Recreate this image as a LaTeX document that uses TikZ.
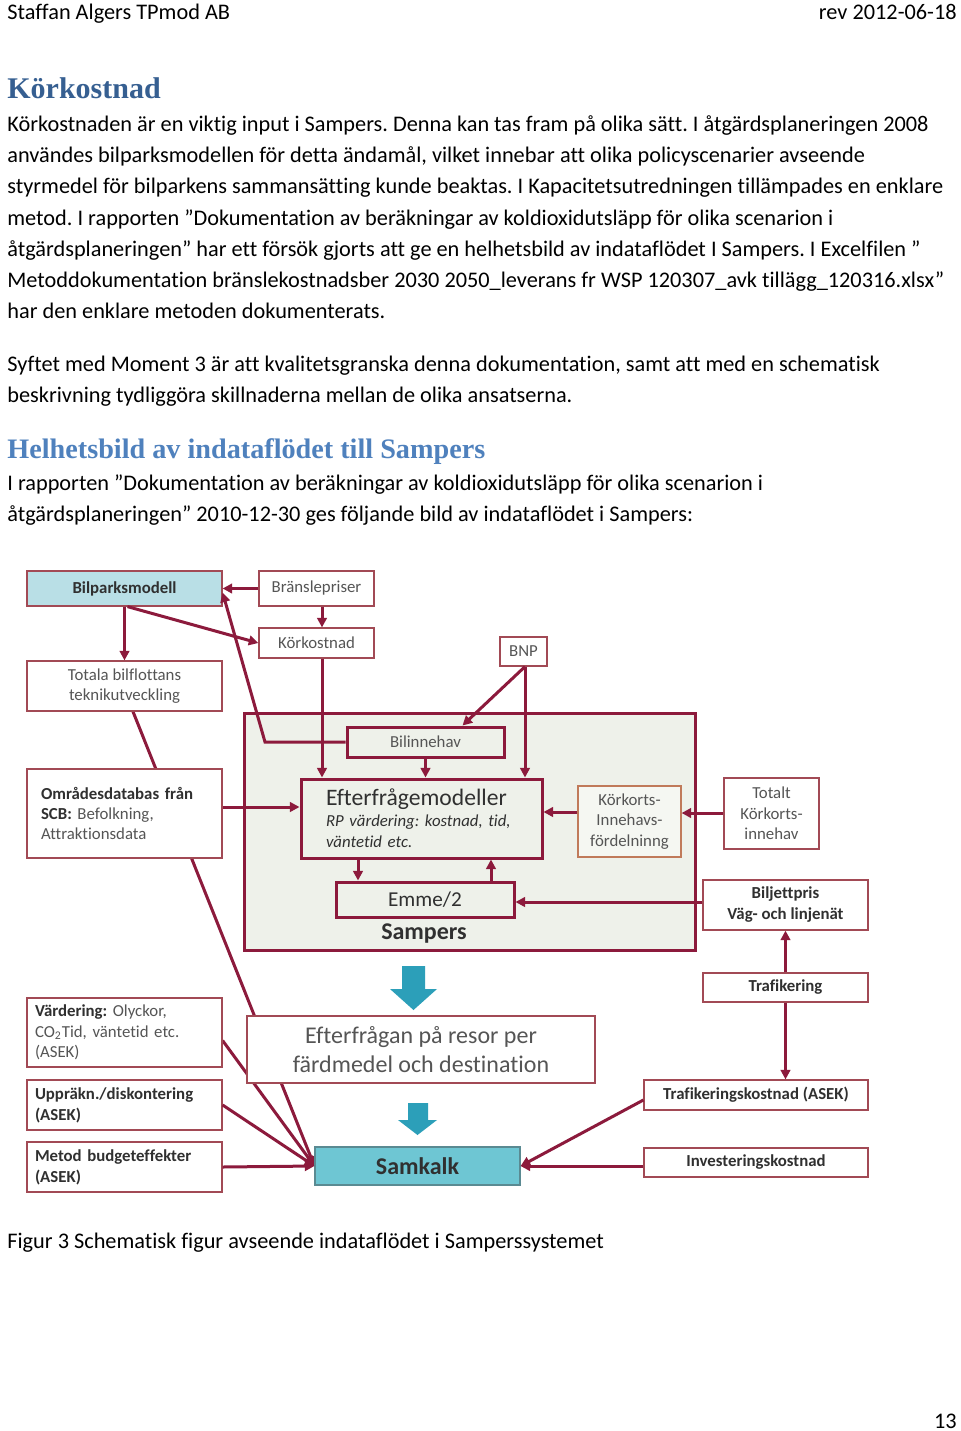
\documentclass[tikz,border=0pt]{standalone}
\usepackage{fontspec}
\setmainfont{Carlito}[Ligatures={NoCommon}]
\newfontfamily\headfont{Liberation Serif}
\usetikzlibrary{arrows.meta,calc}
\definecolor{maroon}{HTML}{8C1A3C}
\definecolor{thinb}{HTML}{A24A55}
\definecolor{sampbg}{HTML}{EEF1EA}
\definecolor{bilpf}{HTML}{B9DFE6}
\definecolor{samkf}{HTML}{6EC6D3}
\definecolor{samkb}{HTML}{5A8A92}
\definecolor{tealarr}{HTML}{2C9FB9}
\definecolor{txtg}{HTML}{555555}
\definecolor{txtd}{HTML}{303030}
\definecolor{h1c}{HTML}{365F91}
\definecolor{h2c}{HTML}{4F81BD}
\definecolor{korkb}{HTML}{C07A5A}
\pgfdeclarelayer{back}
\pgfdeclarelayer{bg}
\pgfsetlayers{back,bg,main}
\newcommand\rbox[7]{\node[#6, minimum width={(#4-#2)*0.5pt}, minimum height={(#5-#3)*0.5pt}] (#1) at ({(#2+#4)/2},{(#3+#5)/2}) {#7};}
\tikzset{
  thinbox/.style={draw=thinb, line width=0.6pt, fill=white, inner sep=0pt, font=\fontsize{8.4}{10.2}\selectfont, text=txtg, align=center},
  boldbox/.style={thinbox, font=\fontsize{8.4}{10.5}\selectfont\bfseries, text=txtd},
  thickbox/.style={draw=maroon, line width=1.5pt, fill=sampbg, inner sep=0pt, text=txtd},
  conn/.style={draw=maroon, line width=1.5pt, -{Triangle[length=4.8pt,width=4.8pt]}},
  body/.style={anchor=base west, inner sep=0pt, font=\fontsize{11.15}{13}\selectfont},
  hd1/.style={anchor=base west, inner sep=0pt, font=\headfont\bfseries\fontsize{15}{18}\selectfont, text=h1c},
  hd2/.style={anchor=base west, inner sep=0pt, font=\headfont\bfseries\fontsize{14.1}{17}\selectfont, text=h2c},
}
\begin{document}
\frenchspacing
\begin{tikzpicture}[x=0.5pt,y=-0.5pt]
\useasboundingbox (0,0) rectangle (960,1431);
\begin{pgfonlayer}{back}
\fill[white] (0,0) rectangle (960,1431);
\end{pgfonlayer}
% header and text
\node[body] (hl) at (7,19) {Staffan Algers TPmod AB};
\node[body, anchor=base east] (hr) at (957,19) {rev 2012-06-18};
\node[hd1] (t1) at (7,98) {Körkostnad};
\node[body] (l1) at (7,131) {Körkostnaden är en viktig input i Sampers. Denna kan tas fram på olika sätt. I åtgärdsplaneringen 2008};
\node[body] (l2) at (7,162.3) {användes bilparksmodellen för detta ändamål, vilket innebar att olika policyscenarier avseende};
\node[body] (l3) at (7,193.6) {styrmedel för bilparkens sammansätting kunde beaktas. I Kapacitetsutredningen tillämpades en enklare};
\node[body] (l4) at (7,225) {metod. I rapporten ”Dokumentation av beräkningar av koldioxidutsläpp för olika scenarion i};
\node[body] (l5) at (7,256.2) {åtgärdsplaneringen” har ett försök gjorts att ge en helhetsbild av indataflödet I Sampers. I Excelfilen ”};
\node[body] (l6) at (7,287.5) {Metoddokumentation bränslekostnadsber 2030 2050\_leverans fr WSP 120307\_avk tillägg\_120316.xlsx”};
\node[body] (l7) at (7,318.8) {har den enklare metoden dokumenterats.};
\node[body] (l8) at (7,371) {Syftet med Moment 3 är att kvalitetsgranska denna dokumentation, samt att med en schematisk};
\node[body] (l9) at (7,402.3) {beskrivning tydliggöra skillnaderna mellan de olika ansatserna.};
\node[hd2] (t2) at (7,458) {Helhetsbild av indataflödet till Sampers};
\node[body] (l10) at (7,490) {I rapporten ”Dokumentation av beräkningar av koldioxidutsläpp för olika scenarion i};
\node[body] (l11) at (7,521.3) {åtgärdsplaneringen” 2010-12-30 ges följande bild av indataflödet i Sampers:};
\node[body] (cap) at (7,1248) {Figur 3 Schematisk figur avseende indataflödet i Samperssystemet};
\node[body, anchor=base east] (pg) at (957,1428) {13};
% diagram boxes
\rbox{samp}{244}{713}{695}{950}{thickbox}{}
\rbox{bilp}{27}{571}{222}{606}{boldbox, fill=bilpf}{Bilparksmodell}
\rbox{bran}{259}{571}{374}{606}{thinbox}{Bränslepriser}
\rbox{kork}{259}{628}{374}{658}{thinbox}{Körkostnad}
\rbox{bnp}{500}{637}{547}{666}{thinbox}{BNP}
\rbox{tota}{27}{661}{222}{711}{thinbox}{Totala bilflottans\\teknikutveckling}
\rbox{bilinn}{347}{727}{504}{757}{thickbox, font=\fontsize{8.4}{10}\selectfont, text=txtg}{Bilinnehav}
\rbox{efm}{301}{779}{542}{858}{thickbox, align=left, text width=95.5pt, font=\fontsize{8.4}{10.5}\selectfont, text=txtd}{{\fontsize{11.8}{13}\selectfont Efterfrågemodeller}\\{\itshape RP värdering: kostnad, tid,}\\{\itshape väntetid etc.}}
\rbox{korkf}{578}{786}{681}{857}{thinbox, draw=korkb, fill=sampbg!60!white}{Körkorts-\\Innehavs-\\fördelninng}
\rbox{totk}{724}{778}{819}{849}{thinbox}{Totalt\\Körkorts-\\innehav}
\rbox{emme}{336}{882}{514}{917}{thickbox, font=\fontsize{10.6}{12}\selectfont, text=txtd}{Emme/2}
\node[font=\fontsize{12}{14}\selectfont\bfseries, text=txtd, inner sep=0pt] (samplbl) at (424,934) {Sampers};
\rbox{bilj}{703}{880}{868}{930}{boldbox}{Biljettpris\\Väg- och linjenät}
\rbox{traf}{703}{973}{868}{1002}{boldbox}{Trafikering}
\rbox{efr}{247}{1016}{595}{1083}{thinbox, font=\fontsize{12}{14.5}\selectfont}{Efterfrågan på resor per\\färdmedel och destination}
\rbox{omr}{27}{769}{222}{858}{thinbox, align=left, text width=83.5pt}{\textbf{\color{txtd}Områdesdatabas från}\\\textbf{\color{txtd}SCB:} Befolkning,\\Attraktionsdata}
\rbox{vard}{27}{998}{222}{1067}{thinbox, align=left, text width=89.5pt}{\textbf{\color{txtd}Värdering:} Olyckor,\\CO\textsubscript{2}Tid, väntetid etc.\\(ASEK)}
\rbox{uppr}{27}{1080}{222}{1130}{boldbox, align=left, text width=89.5pt}{Uppräkn./diskontering\\(ASEK)}
\rbox{metod}{27}{1142}{222}{1192}{boldbox, align=left, text width=89.5pt}{Metod budgeteffekter\\(ASEK)}
\rbox{samk}{315}{1147}{520}{1185}{boldbox, draw=samkb, fill=samkf, font=\fontsize{12}{14}\selectfont\bfseries}{Samkalk}
\rbox{trk}{644}{1080}{868}{1110}{boldbox}{Trafikeringskostnad (ASEK)}
\rbox{inv}{644}{1148}{868}{1177}{boldbox}{Investeringskostnad}
% helper coordinates
\coordinate (kx) at (322,0);
\coordinate (bx) at (525,0);
\coordinate (bend1) at (265,742);
\coordinate (ly1) at (0,807);
\coordinate (ly2) at (0,812);
\coordinate (ly3) at (0,813);
\coordinate (ly4) at (0,902);
\coordinate (ex1) at (358,0);
\coordinate (ex2) at (491,0);
% connectors behind boxes
\begin{pgfonlayer}{bg}
\draw[conn] ($(vard.east)+(0,8)$) -- (samk.west);
\draw[conn] ($(tota.south)+(8.5,0)$) -- (samk.west);
\end{pgfonlayer}
% connectors
\draw[conn] (bran.west) -- (bilp.east);
\draw[conn] (bran.south -| kx) -- (kork.north -| kx);
\draw[conn] (bilp.south) -- (tota.north);
\draw[conn] ($(bilp.south)+(3,0)$) -- (kork.west);
\draw[conn] (bilinn.west) -- (bend1) -- ($(bilp.east)+(0,4)$);
\draw[conn] (kork.south -| kx) -- (efm.north -| kx);
\draw[conn] (bilinn.south) -- (efm.north -| bilinn.south);
\draw[conn] (bnp.south -| bx) -- (efm.north -| bx);
\draw[conn] (bnp.south -| bx) -- ($(bilinn.north)+(37,0)$);
\draw[conn] (omr.east |- ly1) -- (efm.west |- ly1);
\draw[conn] (korkf.west |- ly2) -- (efm.east |- ly2);
\draw[conn] (totk.west |- ly3) -- (korkf.east |- ly3);
\draw[conn] (efm.south -| ex1) -- (emme.north -| ex1);
\draw[conn] (emme.north -| ex2) -- (efm.south -| ex2);
\draw[conn] (bilj.west |- ly4) -- (emme.east |- ly4);
\draw[conn] (traf.north) -- (bilj.south -| traf.north);
\draw[conn] (traf.south) -- (trk.north -| traf.south);
\draw[conn] ($(trk.west)+(0,5)$) -- (samk.east);
\draw[conn] (inv.west |- samk.east) -- (samk.east);
\draw[conn] (metod.east) -- (samk.west);
\draw[conn] (uppr.east) -- (samk.west);
% teal block arrows
\fill[tealarr] (402,966) -- (425,966) -- (425,989) -- (437,989) -- (413.5,1010) -- (390,989) -- (402,989) -- cycle;
\fill[tealarr] (408,1103) -- (428,1103) -- (428,1120) -- (437,1120) -- (417.5,1135) -- (398,1120) -- (408,1120) -- cycle;
\end{tikzpicture}
\end{document}
